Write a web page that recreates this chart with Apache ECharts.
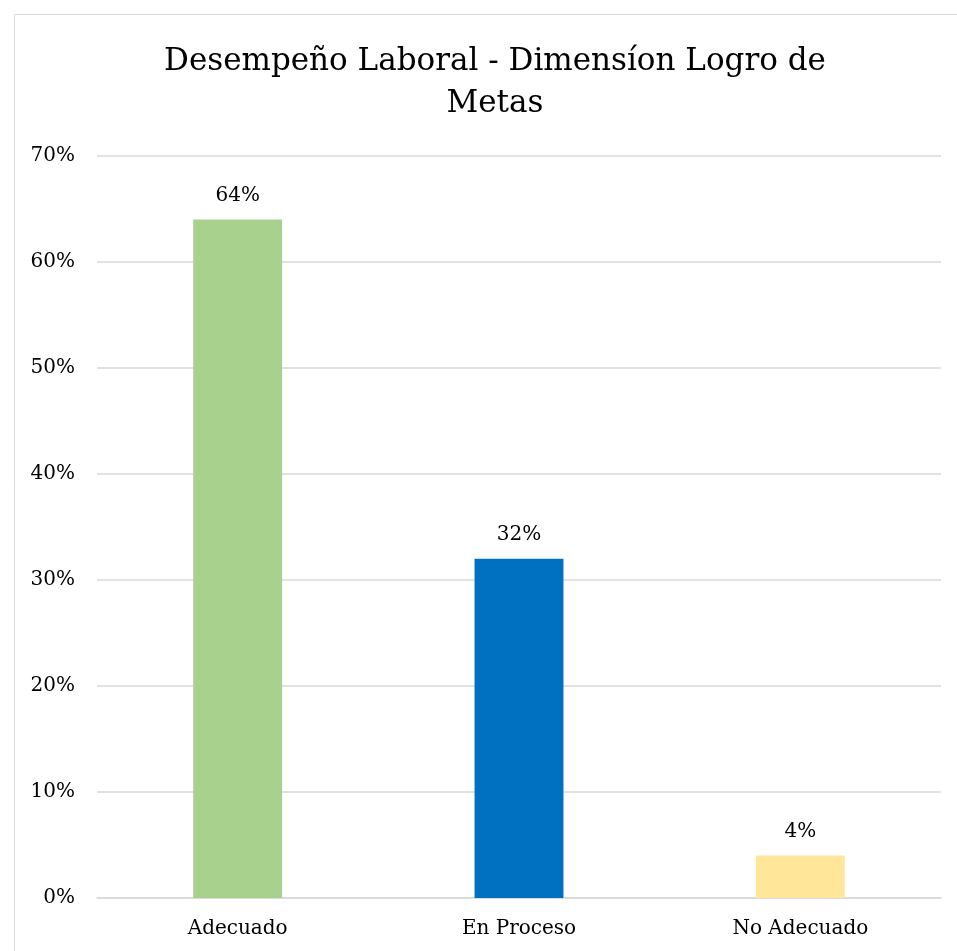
<!DOCTYPE html>
<html><head><meta charset="utf-8">
<script src="https://cdn.jsdelivr.net/npm/echarts@6/dist/echarts.min.js"></script>
<style>html,body{margin:0;padding:0;background:#fff}#c{width:957px;height:951px}</style>
</head><body><div id="c"></div>
<script>
const categories = ['Adecuado', 'En Proceso', 'No Adecuado'];
const values = [64, 32, 4];
const barColors = ['#A9D18E', '#0070C0', '#FFE699'];
const titleText = 'Desempeño Laboral - Dimensíon Logro de\nMetas';
const FONT = 'DejaVu Serif';
const chart = echarts.init(document.getElementById('c'));
chart.setOption({
  backgroundColor: '#fff',
  animation: false,
  graphic: [{type: 'rect', shape: {x: 14.5, y: 14.5, width: 1000, height: 1000}, style: {fill: 'none', stroke: '#D9D9D9', lineWidth: 1}}],
  title: {text: titleText, left: 490, textAlign: 'center', top: 36, textStyle: {fontFamily: FONT, fontSize: 31, fontWeight: 'normal', color: '#000', lineHeight: 42}},
  grid: {left: 97, right: 16, top: 156, bottom: 53},
  xAxis: {type: 'category', data: categories,
    axisLine: {lineStyle: {color: '#D9D9D9', width: 1.5}}, axisTick: {show: false},
    axisLabel: {fontFamily: FONT, fontSize: 20, color: '#000', margin: 21}},
  yAxis: {type: 'value', min: 0, max: 70, interval: 10,
    axisLabel: {formatter: '{value}%', fontFamily: FONT, fontSize: 20, color: '#000', margin: 22},
    splitLine: {lineStyle: {color: '#D9D9D9', width: 1.5}}, axisLine: {show: false}, axisTick: {show: false}},
  series: [{type: 'bar', barWidth: '31.6%',
    data: values.map((v, i) => ({value: v, itemStyle: {color: barColors[i]}})),
    label: {show: true, position: 'top', formatter: '{c}%', fontFamily: FONT, fontSize: 20, color: '#000', distance: 14}}]
});
</script></body></html>
